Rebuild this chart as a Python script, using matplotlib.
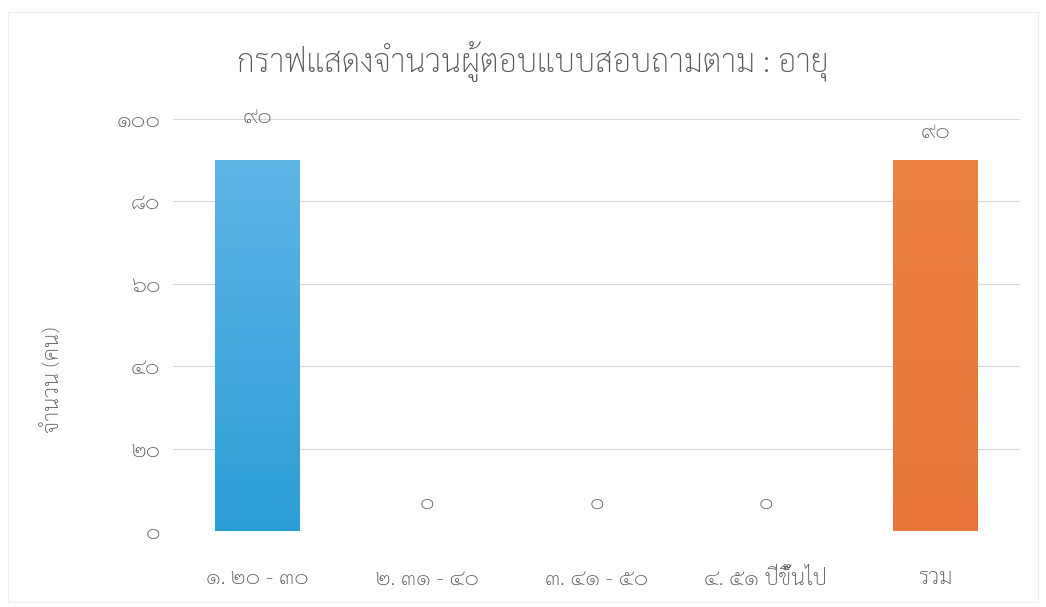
import matplotlib
matplotlib.use("Agg")
import matplotlib.pyplot as plt
import numpy as np
from matplotlib.colors import LinearSegmentedColormap
from matplotlib.patches import Rectangle

plt.rcParams["font.family"] = ["Sarabun", "DejaVu Sans"]
plt.rcParams["font.weight"] = "light"
plt.rcParams["axes.labelweight"] = "light"

TITLE = "กราฟแสดงจำนวนผู้ตอบแบบสอบถามตาม : อายุ"
Y_LABEL = "จำนวน (คน)"
categories = ["๑. ๒๐ - ๓๐", "๒. ๓๑ - ๔๐", "๓. ๔๑ - ๕๐", "๔. ๕๑ ปีขึ้นไป", "รวม"]
counts = [90, 0, 0, 0, 90]
y_ticks = [0, 20, 40, 60, 80, 100]

# gradient top -> bottom for each bar
bar_colors = [("#5fb4e6", "#2c9ed7")] * 4 + [("#ec8141", "#e8763a")]
# label offsets (points) above the bar top
label_offsets = [31, 20, 20, 20, 20]

TEXT = "#555555"
GRID = "#d9d9d9"

THAI_DIGITS = str.maketrans("0123456789", "๐๑๒๓๔๕๖๗๘๙")


def thai_num(v):
    return str(v).translate(THAI_DIGITS)


fig = plt.figure(figsize=(10.46, 6.07), dpi=100)
ax = fig.add_axes([173 / 1046, 1 - 531 / 607, 847 / 1046, 412 / 607])

# faint chart frame
fig.patches.append(Rectangle((8 / 1046, 1 - 602 / 607), 1030 / 1046, 590 / 607,
                             transform=fig.transFigure, fill=False,
                             edgecolor="#eceef2", linewidth=0.8))

x = np.arange(len(categories))
bars = ax.bar(x, counts, width=0.5, color="none", edgecolor="none", zorder=2)
for b, (c_top, c_bot), v in zip(bars, bar_colors, counts):
    if v <= 0:
        continue
    cmap = LinearSegmentedColormap.from_list("g", [c_bot, c_top])
    grad = np.linspace(0, 1, 256).reshape(-1, 1)
    im = ax.imshow(grad, cmap=cmap, origin="lower", aspect="auto",
                   extent=[b.get_x(), b.get_x() + b.get_width(), 0, b.get_height()],
                   zorder=2)
    im.set_clip_path(b)

for b, v, off in zip(bars, counts, label_offsets):
    ax.annotate(thai_num(v), (b.get_x() + b.get_width() / 2, v),
                xytext=(0, off), textcoords="offset points",
                ha="center", va="center", fontsize=16, color=TEXT)

ax.set_xlim(-0.5, len(categories) - 0.5)
ax.set_ylim(0, 100)
ax.set_yticks(y_ticks)
ax.set_yticklabels([thai_num(t) for t in y_ticks])
ax.set_xticks(x)
ax.set_xticklabels(categories)
ax.tick_params(axis="both", length=0, labelsize=16, labelcolor=TEXT)
ax.tick_params(axis="y", pad=9)
ax.tick_params(axis="x", pad=27)
ax.grid(axis="y", color=GRID, linewidth=0.8, zorder=0)
ax.set_axisbelow(True)
for s in ax.spines.values():
    s.set_visible(False)

ax.set_ylabel(Y_LABEL, fontsize=16, color=TEXT)
ax.yaxis.set_label_coords(-0.129, 0.366)

fig.text(533 / 1046, 1 - 62 / 607, TITLE, ha="center", va="center",
         fontsize=23, color=TEXT)

fig.savefig("out.png", dpi=100, facecolor="white")
